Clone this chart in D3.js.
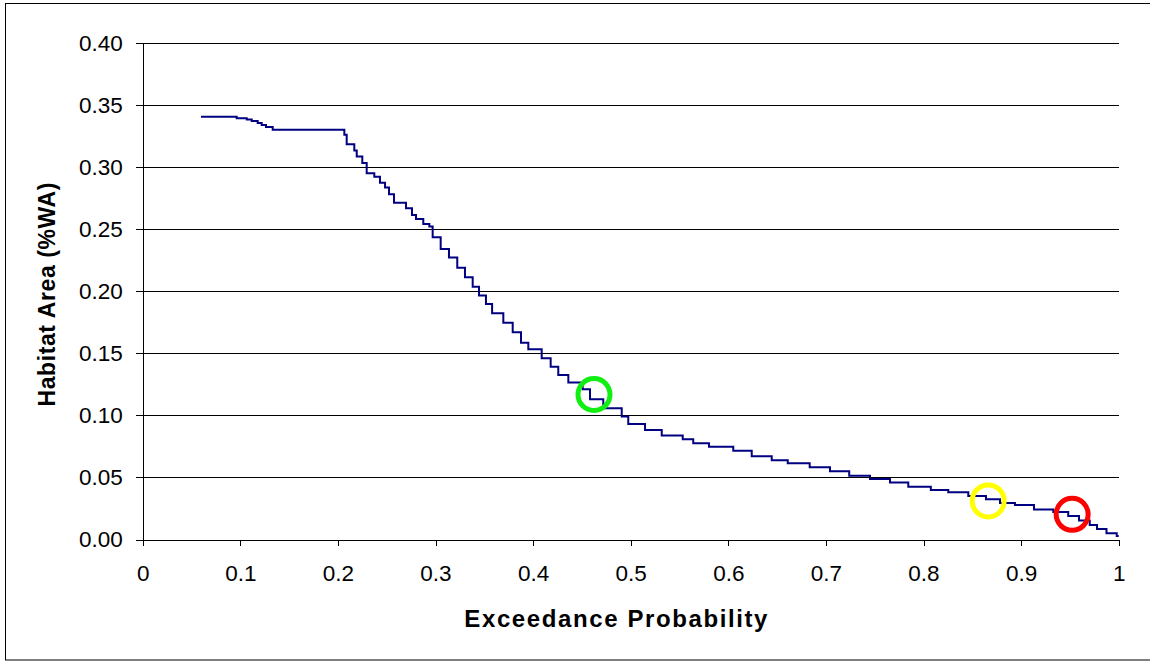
<!DOCTYPE html>
<html>
<head>
<meta charset="utf-8">
<script src="https://cdn.jsdelivr.net/npm/d3@7"></script>
<style>
  body { margin: 0; background: #fff; }
  svg { display: block; font-family: 'Liberation Sans', Arial, sans-serif; }
  .axisLabel text { font-size: 22.5px; fill: #000; }
  .axisLabel path, .axisLabel line { stroke: #000; stroke-width: 1px; shape-rendering: crispEdges; }
  .grid line { stroke: #000; stroke-width: 1px; shape-rendering: crispEdges; }
  .grid path { stroke: none; }
  .title { font-size: 24px; font-weight: bold; fill: #000; }
</style>
</head>
<body>
<svg id="chart" width="1150" height="664"></svg>
<script>
// exceedance probability where each step level starts
const probability = [0.0597, 0.0963, 0.1066, 0.1117, 0.1178, 0.1219, 0.1263, 0.1332,
  0.2066, 0.2090, 0.2168, 0.2193, 0.2250, 0.2295, 0.2373, 0.2431, 0.2483, 0.2524, 0.2575,
  0.2698, 0.2759, 0.2800, 0.2875, 0.2937, 0.2971, 0.3053, 0.3138, 0.3223, 0.3302, 0.3381,
  0.3446, 0.3517, 0.3580, 0.3695, 0.3791, 0.3876, 0.3951, 0.4088, 0.4180, 0.4258, 0.4361,
  0.4508, 0.4583, 0.4719, 0.4908, 0.4975, 0.5147, 0.5318, 0.5533, 0.5641, 0.5802, 0.6051,
  0.6240, 0.6445, 0.6609, 0.6834, 0.7042, 0.7239, 0.7452, 0.7657, 0.7844, 0.8075, 0.8254,
  0.8459, 0.8640, 0.8784, 0.8937, 0.9132, 0.9330, 0.9483, 0.9593, 0.9703, 0.9778, 0.9875,
  0.9980, 1.0]
// habitat area (%WA) for each level
const habitat = [0.3405, 0.3394, 0.3383, 0.3372, 0.3356, 0.3340, 0.3324, 0.3302,
  0.3260, 0.3184, 0.3133, 0.3085, 0.3033, 0.2951, 0.2923, 0.2875, 0.2835, 0.2782, 0.2712,
  0.2669, 0.2615, 0.2583, 0.2542, 0.2521, 0.2435, 0.2341, 0.2271, 0.2190, 0.2113, 0.2037,
  0.1965, 0.1898, 0.1823, 0.1747, 0.1670, 0.1586, 0.1533, 0.1460, 0.1392, 0.1326, 0.1264,
  0.1210, 0.1130, 0.1057, 0.0990, 0.0931, 0.0882, 0.0838, 0.0807, 0.0775, 0.0748, 0.0716,
  0.0670, 0.0638, 0.0614, 0.0582, 0.0549, 0.0514, 0.0488, 0.0459, 0.0425, 0.0399, 0.0380,
  0.0351, 0.0324, 0.0294, 0.0278, 0.0242, 0.0222, 0.0189, 0.0153, 0.0117, 0.0085, 0.0050,
  0.0028, 0.0028]

const xTicks = [0, 0.1, 0.2, 0.3, 0.4, 0.5, 0.6, 0.7, 0.8, 0.9, 1]
const xTickLabels = ['0', '0.1', '0.2', '0.3', '0.4', '0.5', '0.6', '0.7', '0.8', '0.9', '1']
const yTicks = [0, 0.05, 0.10, 0.15, 0.20, 0.25, 0.30, 0.35, 0.40]

// marked points on the curve
const markerProb = [0.4624, 0.8663, 0.9523]
const markerArea = [0.1168, 0.0311, 0.0203]
const markerColor = ['#11ee11', '#ffff00', '#ff0000']

const margin = {top: 43, right: 31.3, bottom: 124.5, left: 142.7}
const width = 1150 - margin.left - margin.right
const height = 664 - margin.top - margin.bottom

const svg = d3.select('#chart')

// outer frame, right side runs off the picture
svg.append('rect')
  .attr('x', 5.5).attr('y', 3.5)
  .attr('width', 1160).attr('height', 656.5)
  .attr('fill', 'none').attr('stroke', '#000').attr('stroke-width', 1)

const xScale = d3.scaleLinear().domain([0, 1]).range([0, width])
const yScale = d3.scaleLinear().domain([0, 0.4]).range([height, 0])

const g = svg.append('g')
  .attr('transform', 'translate(' + margin.left + ',' + margin.top + ')')

g.append('g')
  .attr('class', 'grid')
  .call(d3.axisLeft(yScale)
    .tickValues(yTicks.slice(1))
    .tickSize(-width)
    .tickFormat(''))

g.append('g')
  .attr('class', 'axisLabel leftAxis')
  .call(d3.axisLeft(yScale)
    .tickValues(yTicks)
    .tickSizeInner(7).tickSizeOuter(0)
    .tickPadding(13)
    .tickFormat(d3.format('.2f')))

g.append('g')
  .attr('class', 'axisLabel bottomAxis')
  .attr('transform', 'translate(0,' + height + ')')
  .call(d3.axisBottom(xScale)
    .tickValues(xTicks)
    .tickSizeInner(6).tickSizeOuter(0)
    .tickPadding(20)
    .tickFormat((d, i) => xTickLabels[i]))

const data = probability.map((p, i) => ({ p: p, a: habitat[i] }))

const line = d3.line()
  .curve(d3.curveStepAfter)
  .x((d) => xScale(d.p))
  .y((d) => yScale(d.a))

g.append('path')
  .datum(data)
  .attr('d', line)
  .attr('fill', 'none')
  .attr('stroke', '#000080')
  .attr('stroke-width', 2)

g.selectAll('.marker')
  .data(markerProb)
  .enter().append('circle')
  .attr('class', 'marker')
  .attr('cx', (d) => xScale(d))
  .attr('cy', (d, i) => yScale(markerArea[i]))
  .attr('r', 16)
  .attr('fill', 'none')
  .attr('stroke', (d, i) => markerColor[i])
  .attr('stroke-width', 5)

svg.append('text')
  .attr('class', 'title')
  .attr('x', margin.left + width / 2 - 14)
  .attr('y', 627)
  .attr('text-anchor', 'middle')
  .attr('letter-spacing', '1.6px')
  .text('Exceedance Probability')

svg.append('text')
  .attr('class', 'title')
  .attr('transform', 'translate(55,' + (margin.top + height / 2 + 3) + ') rotate(-90)')
  .attr('text-anchor', 'middle')
  .attr('letter-spacing', '0.6px')
  .style('font-size', '23px')
  .text('Habitat Area (%WA)')
</script>
</body>
</html>
